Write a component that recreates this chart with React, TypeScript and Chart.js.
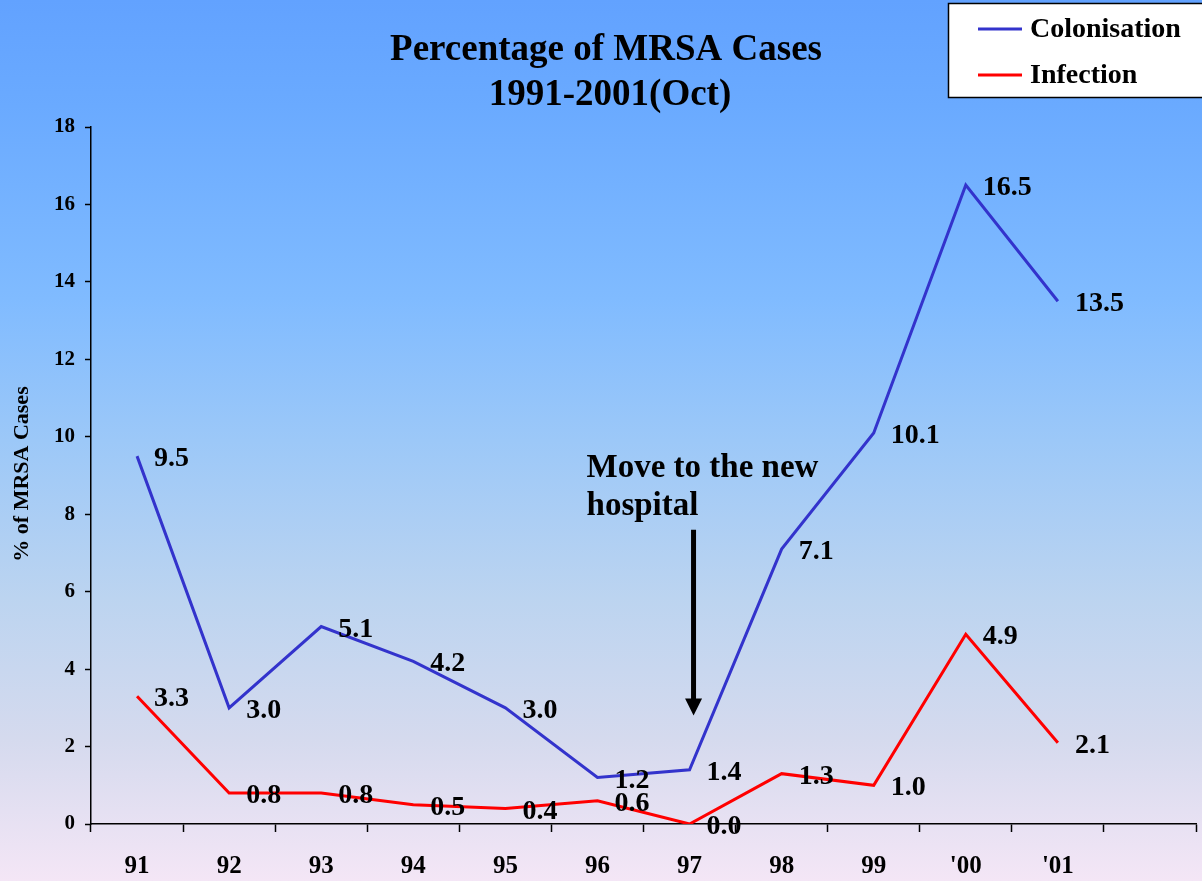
import React, { useEffect, useRef } from 'react';
import { Chart, registerables } from 'chart.js';

Chart.register(...registerables);

const years = ['91', '92', '93', '94', '95', '96', '97', '98', '99', "'00", "'01", ''];
const colonisation = [9.5, 3.0, 5.1, 4.2, 3.0, 1.2, 1.4, 7.1, 10.1, 16.5, 13.5, null];
const infection = [3.3, 0.8, 0.8, 0.5, 0.4, 0.6, 0.0, 1.3, 1.0, 4.9, 2.1, null];
const seriesNames = ['Colonisation', 'Infection'];
const seriesColors = ['#3333CC', '#FF0000'];
const titleLines = ['Percentage of MRSA Cases', '1991-2001(Oct)'];
const yAxisTitle = '% of MRSA Cases';
const noteLines = ['Move to the new', 'hospital'];
const noteIndex = 6; // '97
const arrowFrom = 7.6;
const arrowTo = 2.8;
const noteBaselines = [8.96, 7.98];
const yMin = 0;
const yMax = 18;
const yStep = 2;

const FONT = "'Liberation Serif', 'Times New Roman', serif";

const backgroundPlugin = {
  id: 'bgGradient',
  beforeDraw(chart: any) {
    const { ctx, width, height } = chart;
    const g = ctx.createLinearGradient(0, 0, 0, height);
    g.addColorStop(0, '#62A2FF');
    g.addColorStop(0.12, '#6AAAFF');
    g.addColorStop(0.34, '#80BBFF');
    g.addColorStop(0.5, '#9CC8F8');
    g.addColorStop(0.68, '#BCD4F0');
    g.addColorStop(0.84, '#D5DAEE');
    g.addColorStop(1, '#F4E6F6');
    ctx.save();
    ctx.fillStyle = g;
    ctx.fillRect(0, 0, width, height);
    ctx.restore();
  },
};

const decorPlugin = {
  id: 'decor',
  afterDatasetsDraw(chart: any) {
    const { ctx } = chart;
    const xs = chart.scales.x;
    const ys = chart.scales.y;
    ctx.save();
    // data labels
    ctx.fillStyle = '#000';
    ctx.font = `bold 28px ${FONT}`;
    ctx.textAlign = 'left';
    ctx.textBaseline = 'alphabetic';
    chart.data.datasets.forEach((ds: any, di: number) => {
      const meta = chart.getDatasetMeta(di);
      ds.data.forEach((v: number | null, i: number) => {
        if (v === null || v === undefined) return;
        const pt = meta.data[i];
        ctx.fillText(v.toFixed(1), pt.x + 17, pt.y + 10);
      });
    });

    // annotation text + arrow
    const cx = xs.getPixelForValue(noteIndex);
    ctx.font = `bold 33px ${FONT}`;
    noteLines.forEach((t, i) => {
      ctx.fillText(t, cx - 103, ys.getPixelForValue(noteBaselines[i]));
    });
    const ax = cx + 4;
    const top = ys.getPixelForValue(arrowFrom);
    const tip = ys.getPixelForValue(arrowTo);
    ctx.strokeStyle = '#000';
    ctx.lineWidth = 5;
    ctx.beginPath();
    ctx.moveTo(ax, top);
    ctx.lineTo(ax, tip - 14);
    ctx.stroke();
    ctx.beginPath();
    ctx.moveTo(ax - 8.5, tip - 17);
    ctx.lineTo(ax + 8.5, tip - 17);
    ctx.lineTo(ax, tip);
    ctx.closePath();
    ctx.fill();
    ctx.restore();
  },
  afterDraw(chart: any) {
    const { ctx } = chart;
    ctx.save();
    // title
    ctx.fillStyle = '#000';
    ctx.textAlign = 'center';
    ctx.textBaseline = 'alphabetic';
    ctx.font = `bold 37px ${FONT}`;
    ctx.fillText(titleLines[0], 606, 60);
    ctx.fillText(titleLines[1], 610, 105);

    // y axis title
    ctx.save();
    ctx.translate(22, 474);
    ctx.rotate(-Math.PI / 2);
    ctx.textBaseline = 'middle';
    ctx.font = `bold 22px ${FONT}`;
    ctx.fillText(yAxisTitle, 0, 0);
    ctx.restore();

    // legend
    ctx.fillStyle = '#FFFFFF';
    ctx.fillRect(948, 3, 270, 94);
    ctx.strokeStyle = '#000';
    ctx.lineWidth = 1.5;
    ctx.strokeRect(948.5, 3.5, 270, 94);
    const rows = [29, 75];
    seriesNames.forEach((name, i) => {
      ctx.strokeStyle = seriesColors[i];
      ctx.lineWidth = 3;
      ctx.beginPath();
      ctx.moveTo(978, rows[i]);
      ctx.lineTo(1022, rows[i]);
      ctx.stroke();
      ctx.fillStyle = '#000';
      ctx.textAlign = 'left';
      ctx.textBaseline = 'middle';
      ctx.font = `bold 28px ${FONT}`;
      ctx.fillText(name, 1030, rows[i] + 1);
    });
    ctx.restore();
  },
};

export default function App() {
  const ref = useRef<HTMLCanvasElement | null>(null);
  useEffect(() => {
    if (!ref.current) return;
    const chart = new Chart(ref.current, {
      type: 'line',
      data: {
        labels: years,
        datasets: [
          {
            label: seriesNames[0],
            data: colonisation,
            borderColor: seriesColors[0],
            backgroundColor: seriesColors[0],
            borderWidth: 3,
            pointRadius: 0,
            tension: 0,
            fill: false,
          },
          {
            label: seriesNames[1],
            data: infection,
            borderColor: seriesColors[1],
            backgroundColor: seriesColors[1],
            borderWidth: 3,
            pointRadius: 0,
            tension: 0,
            fill: false,
          },
        ],
      },
      options: {
        responsive: false,
        animation: false,
        layout: { padding: { top: 127, right: 6, left: 0, bottom: 0 } },
        plugins: {
          legend: { display: false },
          title: { display: false },
          tooltip: { enabled: false },
        },
        scales: {
          x: {
            type: 'category',
            offset: true,
            grid: {
              offset: true,
              drawOnChartArea: false,
              tickLength: 8,
              tickColor: '#000',
              tickWidth: 1.5,
            },
            border: { color: '#000', width: 1.5 },
            ticks: {
              color: '#000',
              padding: 20,
              maxRotation: 0,
              autoSkip: false,
              font: { family: FONT, weight: 'bold', size: 25 },
            },
            afterFit(s: any) {
              s.height = 57;
            },
          },
          y: {
            min: yMin,
            max: yMax,
            ticks: {
              stepSize: yStep,
              color: '#000',
              padding: 10,
              font: { family: FONT, weight: 'bold', size: 21 },
            },
            grid: {
              drawOnChartArea: false,
              tickLength: 6,
              tickColor: '#000',
              tickWidth: 1.5,
            },
            border: { color: '#000', width: 1.5 },
            afterFit(s: any) {
              s.width = 91;
            },
          },
        },
      },
      plugins: [backgroundPlugin, decorPlugin],
    } as any);
    return () => chart.destroy();
  }, []);
  return (
    <div style={{ position: 'fixed', left: 0, top: 0, width: 1202, height: 881 }}>
      <canvas ref={ref} width={1202} height={881} style={{ display: 'block' }} />
    </div>
  );
}
